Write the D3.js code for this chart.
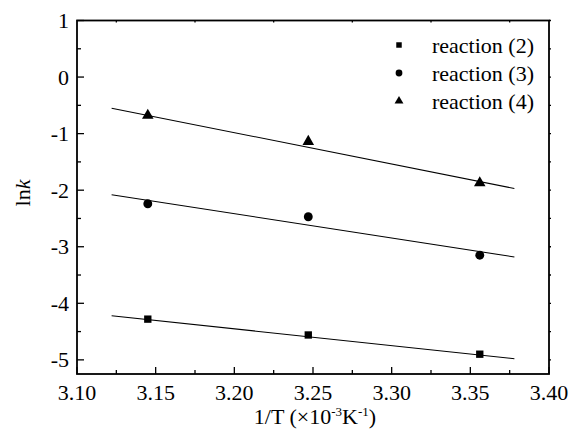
<!DOCTYPE html>
<html lang="en">
  <head>
    <meta charset="utf-8">
    <title>ln k vs 1/T</title>
    <script src="https://d3js.org/d3.v7.min.js"></script>
    <style>
      body { margin: 0; background: #fff; }
      svg { display: block; }
    </style>
  </head>
  <body>
    <div id="main"></div>
    <script>
      // 1/T values (x10^-3 K^-1) and ln k per reaction
      var invT = [3.145, 3.247, 3.356];
      var lnk2 = [-4.28, -4.56, -4.90];
      var lnk3 = [-2.24, -2.47, -3.15];
      var lnk4 = [-0.68, -1.14, -1.87];
      // fitted lines, read at the ends of the drawn segments
      var fitX = [3.122, 3.378];
      var fit2 = [-4.22, -4.98];
      var fit3 = [-2.08, -3.18];
      var fit4 = [-0.55, -1.97];
      var xTicks = [3.10, 3.15, 3.20, 3.25, 3.30, 3.35, 3.40];
      var yTicks = [1, 0, -1, -2, -3, -4, -5];
      var labels = ["reaction (2)", "reaction (3)", "reaction (4)"];

      var W = 571, H = 438;
      var m = {left: 77, right: 22, top: 20.5, bottom: 64};
      var font = "'Liberation Serif', 'DejaVu Serif', serif";
      var svg = d3.select("#main").append("svg")
        .attr("width", W).attr("height", H)
        .attr("font-family", font);

      var x = d3.scaleLinear().domain([3.10, 3.40]).range([m.left, W - m.right]);
      var y = d3.scaleLinear().domain([-5.25, 1]).range([H - m.bottom, m.top]);

      var series = [
        {vals: lnk2, fit: fit2, shape: d3.symbolSquare, size: 54, lsize: 30},
        {vals: lnk3, fit: fit3, shape: d3.symbolCircle, size: 62, lsize: 36},
        {vals: lnk4, fit: fit4, shape: d3.symbolTriangle, size: 58, lsize: 34}
      ];

      // minor ticks (halfway) - inward on bottom/left, tiny on top/right
      var xMinor = d3.range(3.125, 3.40, 0.05);
      var yMinor = [0.5, -0.5, -1.5, -2.5, -3.5, -4.5];
      var ax = svg.append("g").attr("stroke", "#000").attr("stroke-width", 1.3);
      xTicks.forEach(function(t) {
        ax.append("line").attr("x1", x(t)).attr("x2", x(t)).attr("y1", y.range()[0]).attr("y2", y.range()[0] - 7);
      });
      xMinor.forEach(function(t) {
        ax.append("line").attr("x1", x(t)).attr("x2", x(t)).attr("y1", y.range()[0]).attr("y2", y.range()[0] - 4);
        ax.append("line").attr("x1", x(t)).attr("x2", x(t)).attr("y1", m.top).attr("y2", m.top + 2);
      });
      yTicks.forEach(function(t) {
        ax.append("line").attr("x1", m.left).attr("x2", m.left + 7).attr("y1", y(t)).attr("y2", y(t));
        ax.append("line").attr("x1", W - m.right).attr("x2", W - m.right + 2).attr("y1", y(t)).attr("y2", y(t));
      });
      yMinor.forEach(function(t) {
        ax.append("line").attr("x1", m.left).attr("x2", m.left + 4).attr("y1", y(t)).attr("y2", y(t));
        ax.append("line").attr("x1", W - m.right).attr("x2", W - m.right + 2).attr("y1", y(t)).attr("y2", y(t));
      });

      svg.append("rect")
        .attr("x", m.left).attr("y", m.top)
        .attr("width", W - m.left - m.right).attr("height", H - m.top - m.bottom)
        .attr("fill", "none").attr("stroke", "#000").attr("stroke-width", 1.8);

      svg.selectAll(".xl").data(xTicks).enter().append("text")
        .attr("x", function(d) { return x(d); })
        .attr("y", 400)
        .attr("text-anchor", "middle")
        .attr("font-size", 22)
        .text(function(d) { return d.toFixed(2); });

      svg.selectAll(".yl").data(yTicks).enter().append("text")
        .attr("x", 69)
        .attr("y", function(d) { return y(d) + 7.5; })
        .attr("text-anchor", "end")
        .attr("font-size", 22)
        .text(function(d) { return d < 0 ? "-" + Math.abs(d) : d; });

      // fit lines and points
      var line = d3.line().x(function(d) { return x(d[0]); }).y(function(d) { return y(d[1]); });
      series.forEach(function(s) {
        svg.append("path")
          .attr("d", line(d3.zip(fitX, s.fit)))
          .attr("fill", "none").attr("stroke", "#000").attr("stroke-width", 1.1);
        svg.selectAll(null).data(d3.zip(invT, s.vals)).enter().append("path")
          .attr("d", d3.symbol().type(s.shape).size(s.size))
          .attr("transform", function(d) { return "translate(" + x(d[0]) + "," + y(d[1]) + ")"; })
          .attr("fill", "#000");
      });

      // legend
      var leg = svg.selectAll(".leg").data(series).enter().append("g")
        .attr("transform", function(d, i) { return "translate(399," + (45 + i * 28) + ")"; });
      leg.append("path")
        .attr("d", function(d) { return d3.symbol().type(d.shape).size(d.lsize)(); })
        .attr("fill", "#000");
      leg.append("text")
        .attr("x", 33).attr("y", 8)
        .attr("font-size", 22)
        .text(function(d, i) { return labels[i]; });

      // axis titles
      var xt = svg.append("text")
        .attr("x", 315).attr("y", 424)
        .attr("text-anchor", "middle")
        .attr("font-size", 22);
      xt.append("tspan").text("1/T (\u00d710");
      xt.append("tspan").attr("font-size", 13).attr("dy", -8).text("-3");
      xt.append("tspan").attr("dy", 8).text("K");
      xt.append("tspan").attr("font-size", 13).attr("dy", -8).text("-1");
      xt.append("tspan").attr("dy", 8).text(")");

      var yt = svg.append("text")
        .attr("transform", "translate(30,193) rotate(-90)")
        .attr("text-anchor", "middle")
        .attr("font-size", 22);
      yt.append("tspan").text("ln");
      yt.append("tspan").attr("font-style", "italic").text("k");
    </script>
  </body>
</html>
